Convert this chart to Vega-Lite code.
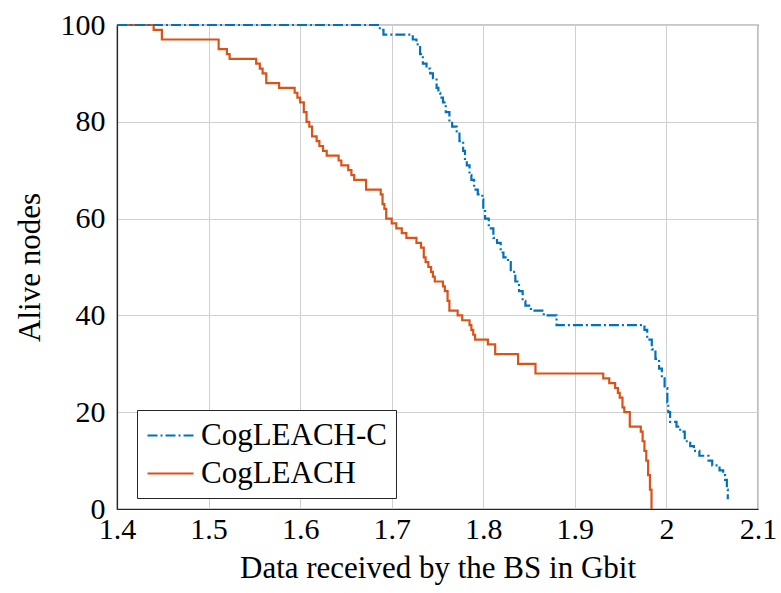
{
  "$schema": "https://vega.github.io/schema/vega-lite/v6.json",
  "width": 641,
  "height": 484,
  "autosize": {"type": "none"},
  "padding": {"left": 117, "top": 25, "right": 23, "bottom": 84},
  "background": "white",
  "config": {
    "font": "Liberation Serif",
    "view": {"stroke": "#262626", "strokeWidth": 1.2},
    "axis": {
      "labelFont": "Liberation Serif",
      "titleFont": "Liberation Serif",
      "labelFontSize": 30,
      "titleFontSize": 31,
      "labelColor": "#000",
      "titleColor": "#000",
      "titleFontWeight": "normal",
      "gridColor": "#d0d0d0",
      "gridWidth": 1,
      "domainColor": "#262626",
      "domainWidth": 1.2,
      "ticks": false
    },
    "legend": {
      "labelFont": "Liberation Serif",
      "labelFontSize": 31,
      "labelColor": "#000"
    }
  },
  "data": {
    "values": [
      {"s": "CogLEACH", "x": 1.400, "y": 100},
      {"s": "CogLEACH", "x": 1.440, "y": 99},
      {"s": "CogLEACH", "x": 1.449, "y": 97},
      {"s": "CogLEACH", "x": 1.511, "y": 95},
      {"s": "CogLEACH", "x": 1.520, "y": 94},
      {"s": "CogLEACH", "x": 1.523, "y": 93},
      {"s": "CogLEACH", "x": 1.552, "y": 92},
      {"s": "CogLEACH", "x": 1.556, "y": 91},
      {"s": "CogLEACH", "x": 1.559, "y": 90},
      {"s": "CogLEACH", "x": 1.563, "y": 88},
      {"s": "CogLEACH", "x": 1.577, "y": 87},
      {"s": "CogLEACH", "x": 1.594, "y": 86},
      {"s": "CogLEACH", "x": 1.597, "y": 85},
      {"s": "CogLEACH", "x": 1.600, "y": 84},
      {"s": "CogLEACH", "x": 1.604, "y": 82},
      {"s": "CogLEACH", "x": 1.607, "y": 80},
      {"s": "CogLEACH", "x": 1.610, "y": 79},
      {"s": "CogLEACH", "x": 1.613, "y": 77},
      {"s": "CogLEACH", "x": 1.618, "y": 76},
      {"s": "CogLEACH", "x": 1.621, "y": 75},
      {"s": "CogLEACH", "x": 1.625, "y": 74},
      {"s": "CogLEACH", "x": 1.629, "y": 73},
      {"s": "CogLEACH", "x": 1.642, "y": 72},
      {"s": "CogLEACH", "x": 1.645, "y": 71},
      {"s": "CogLEACH", "x": 1.6525, "y": 70},
      {"s": "CogLEACH", "x": 1.656, "y": 69},
      {"s": "CogLEACH", "x": 1.659, "y": 68},
      {"s": "CogLEACH", "x": 1.672, "y": 66},
      {"s": "CogLEACH", "x": 1.688, "y": 65},
      {"s": "CogLEACH", "x": 1.690, "y": 63},
      {"s": "CogLEACH", "x": 1.692, "y": 62},
      {"s": "CogLEACH", "x": 1.694, "y": 60},
      {"s": "CogLEACH", "x": 1.700, "y": 59},
      {"s": "CogLEACH", "x": 1.705, "y": 58},
      {"s": "CogLEACH", "x": 1.711, "y": 57},
      {"s": "CogLEACH", "x": 1.716, "y": 56},
      {"s": "CogLEACH", "x": 1.727, "y": 55},
      {"s": "CogLEACH", "x": 1.732, "y": 54},
      {"s": "CogLEACH", "x": 1.735, "y": 52},
      {"s": "CogLEACH", "x": 1.737, "y": 51},
      {"s": "CogLEACH", "x": 1.740, "y": 50},
      {"s": "CogLEACH", "x": 1.743, "y": 49},
      {"s": "CogLEACH", "x": 1.745, "y": 48},
      {"s": "CogLEACH", "x": 1.747, "y": 47},
      {"s": "CogLEACH", "x": 1.756, "y": 46},
      {"s": "CogLEACH", "x": 1.758, "y": 45},
      {"s": "CogLEACH", "x": 1.761, "y": 43},
      {"s": "CogLEACH", "x": 1.763, "y": 41},
      {"s": "CogLEACH", "x": 1.772, "y": 40},
      {"s": "CogLEACH", "x": 1.777, "y": 39},
      {"s": "CogLEACH", "x": 1.785, "y": 38},
      {"s": "CogLEACH", "x": 1.787, "y": 37},
      {"s": "CogLEACH", "x": 1.789, "y": 36},
      {"s": "CogLEACH", "x": 1.791, "y": 35},
      {"s": "CogLEACH", "x": 1.805, "y": 34},
      {"s": "CogLEACH", "x": 1.813, "y": 32},
      {"s": "CogLEACH", "x": 1.838, "y": 30},
      {"s": "CogLEACH", "x": 1.857, "y": 28},
      {"s": "CogLEACH", "x": 1.931, "y": 27},
      {"s": "CogLEACH", "x": 1.9376, "y": 26},
      {"s": "CogLEACH", "x": 1.944, "y": 25},
      {"s": "CogLEACH", "x": 1.947, "y": 24},
      {"s": "CogLEACH", "x": 1.949, "y": 23},
      {"s": "CogLEACH", "x": 1.952, "y": 21},
      {"s": "CogLEACH", "x": 1.954, "y": 20},
      {"s": "CogLEACH", "x": 1.960, "y": 17},
      {"s": "CogLEACH", "x": 1.972, "y": 16},
      {"s": "CogLEACH", "x": 1.974, "y": 14},
      {"s": "CogLEACH", "x": 1.976, "y": 12},
      {"s": "CogLEACH", "x": 1.978, "y": 10},
      {"s": "CogLEACH", "x": 1.980, "y": 7},
      {"s": "CogLEACH", "x": 1.982, "y": 4},
      {"s": "CogLEACH", "x": 1.9837, "y": 0},
      {"s": "CogLEACH-C", "x": 1.400, "y": 100},
      {"s": "CogLEACH-C", "x": 1.687, "y": 99},
      {"s": "CogLEACH-C", "x": 1.691, "y": 98},
      {"s": "CogLEACH-C", "x": 1.723, "y": 97},
      {"s": "CogLEACH-C", "x": 1.727, "y": 96},
      {"s": "CogLEACH-C", "x": 1.731, "y": 94},
      {"s": "CogLEACH-C", "x": 1.734, "y": 92},
      {"s": "CogLEACH-C", "x": 1.738, "y": 91},
      {"s": "CogLEACH-C", "x": 1.742, "y": 90},
      {"s": "CogLEACH-C", "x": 1.745, "y": 89},
      {"s": "CogLEACH-C", "x": 1.749, "y": 87},
      {"s": "CogLEACH-C", "x": 1.751, "y": 86},
      {"s": "CogLEACH-C", "x": 1.753, "y": 85},
      {"s": "CogLEACH-C", "x": 1.756, "y": 84},
      {"s": "CogLEACH-C", "x": 1.759, "y": 82},
      {"s": "CogLEACH-C", "x": 1.763, "y": 80},
      {"s": "CogLEACH-C", "x": 1.766, "y": 79},
      {"s": "CogLEACH-C", "x": 1.771, "y": 78},
      {"s": "CogLEACH-C", "x": 1.774, "y": 76},
      {"s": "CogLEACH-C", "x": 1.778, "y": 74},
      {"s": "CogLEACH-C", "x": 1.780, "y": 72},
      {"s": "CogLEACH-C", "x": 1.782, "y": 71},
      {"s": "CogLEACH-C", "x": 1.785, "y": 69},
      {"s": "CogLEACH-C", "x": 1.787, "y": 68},
      {"s": "CogLEACH-C", "x": 1.790, "y": 66},
      {"s": "CogLEACH-C", "x": 1.794, "y": 65},
      {"s": "CogLEACH-C", "x": 1.799, "y": 64},
      {"s": "CogLEACH-C", "x": 1.800, "y": 62},
      {"s": "CogLEACH-C", "x": 1.802, "y": 60},
      {"s": "CogLEACH-C", "x": 1.806, "y": 58},
      {"s": "CogLEACH-C", "x": 1.811, "y": 56},
      {"s": "CogLEACH-C", "x": 1.815, "y": 55},
      {"s": "CogLEACH-C", "x": 1.819, "y": 53},
      {"s": "CogLEACH-C", "x": 1.822, "y": 52},
      {"s": "CogLEACH-C", "x": 1.827, "y": 51},
      {"s": "CogLEACH-C", "x": 1.830, "y": 49},
      {"s": "CogLEACH-C", "x": 1.835, "y": 47},
      {"s": "CogLEACH-C", "x": 1.839, "y": 45},
      {"s": "CogLEACH-C", "x": 1.843, "y": 43},
      {"s": "CogLEACH-C", "x": 1.846, "y": 42},
      {"s": "CogLEACH-C", "x": 1.852, "y": 41},
      {"s": "CogLEACH-C", "x": 1.866, "y": 40},
      {"s": "CogLEACH-C", "x": 1.880, "y": 38},
      {"s": "CogLEACH-C", "x": 1.976, "y": 37},
      {"s": "CogLEACH-C", "x": 1.979, "y": 35},
      {"s": "CogLEACH-C", "x": 1.984, "y": 33},
      {"s": "CogLEACH-C", "x": 1.988, "y": 31},
      {"s": "CogLEACH-C", "x": 1.992, "y": 29},
      {"s": "CogLEACH-C", "x": 1.995, "y": 27},
      {"s": "CogLEACH-C", "x": 1.998, "y": 25},
      {"s": "CogLEACH-C", "x": 2.001, "y": 22},
      {"s": "CogLEACH-C", "x": 2.002, "y": 20},
      {"s": "CogLEACH-C", "x": 2.004, "y": 18},
      {"s": "CogLEACH-C", "x": 2.011, "y": 17},
      {"s": "CogLEACH-C", "x": 2.015, "y": 16},
      {"s": "CogLEACH-C", "x": 2.020, "y": 14},
      {"s": "CogLEACH-C", "x": 2.026, "y": 13},
      {"s": "CogLEACH-C", "x": 2.030, "y": 12},
      {"s": "CogLEACH-C", "x": 2.036, "y": 11},
      {"s": "CogLEACH-C", "x": 2.046, "y": 10},
      {"s": "CogLEACH-C", "x": 2.050, "y": 9},
      {"s": "CogLEACH-C", "x": 2.058, "y": 8},
      {"s": "CogLEACH-C", "x": 2.062, "y": 7},
      {"s": "CogLEACH-C", "x": 2.064, "y": 6},
      {"s": "CogLEACH-C", "x": 2.066, "y": 4},
      {"s": "CogLEACH-C", "x": 2.067, "y": 2}
    ]
  },
  "mark": {"type": "line", "interpolate": "step-after", "strokeWidth": 2.2},
  "encoding": {
    "x": {
      "field": "x",
      "type": "quantitative",
      "scale": {"domain": [1.4, 2.1], "nice": false, "zero": false},
      "axis": {
        "title": "Data received by the BS in Gbit",
        "titleFont": "Liberation Serif",
        "labelFont": "Liberation Serif",
        "values": [1.4, 1.5, 1.6, 1.7, 1.8, 1.9, 2.0, 2.1],
        "format": "~g",
        "labelPadding": 5,
        "titlePadding": 9,
        "labelFlush": false
      }
    },
    "y": {
      "field": "y",
      "type": "quantitative",
      "scale": {"domain": [0, 100], "nice": false},
      "axis": {
        "title": "Alive nodes",
        "titleFont": "Liberation Serif",
        "labelFont": "Liberation Serif",
        "values": [0, 20, 40, 60, 80, 100],
        "labelPadding": 12,
        "titlePadding": 14,
        "labelFlush": false
      }
    },
    "color": {
      "field": "s",
      "type": "nominal",
      "scale": {"domain": ["CogLEACH-C", "CogLEACH"], "range": ["#0072BD", "#D95319"]},
      "legend": {
        "title": null,
        "orient": "none",
        "legendX": 20,
        "legendY": 385,
        "strokeColor": "#262626",
        "fillColor": "white",
        "padding": 9,
        "symbolType": "M-1,0H2.07",
        "symbolSize": 900,
        "symbolStrokeWidth": 2.2,
        "labelOffset": 22,
        "labelLimit": 0,
        "labelFont": "Liberation Serif",
        "rowPadding": 6
      }
    },
    "strokeDash": {
      "field": "s",
      "type": "nominal",
      "scale": {"domain": ["CogLEACH-C", "CogLEACH"], "range": [[10, 3, 2, 3], [1, 0]]},
      "legend": null
    }
  }
}
